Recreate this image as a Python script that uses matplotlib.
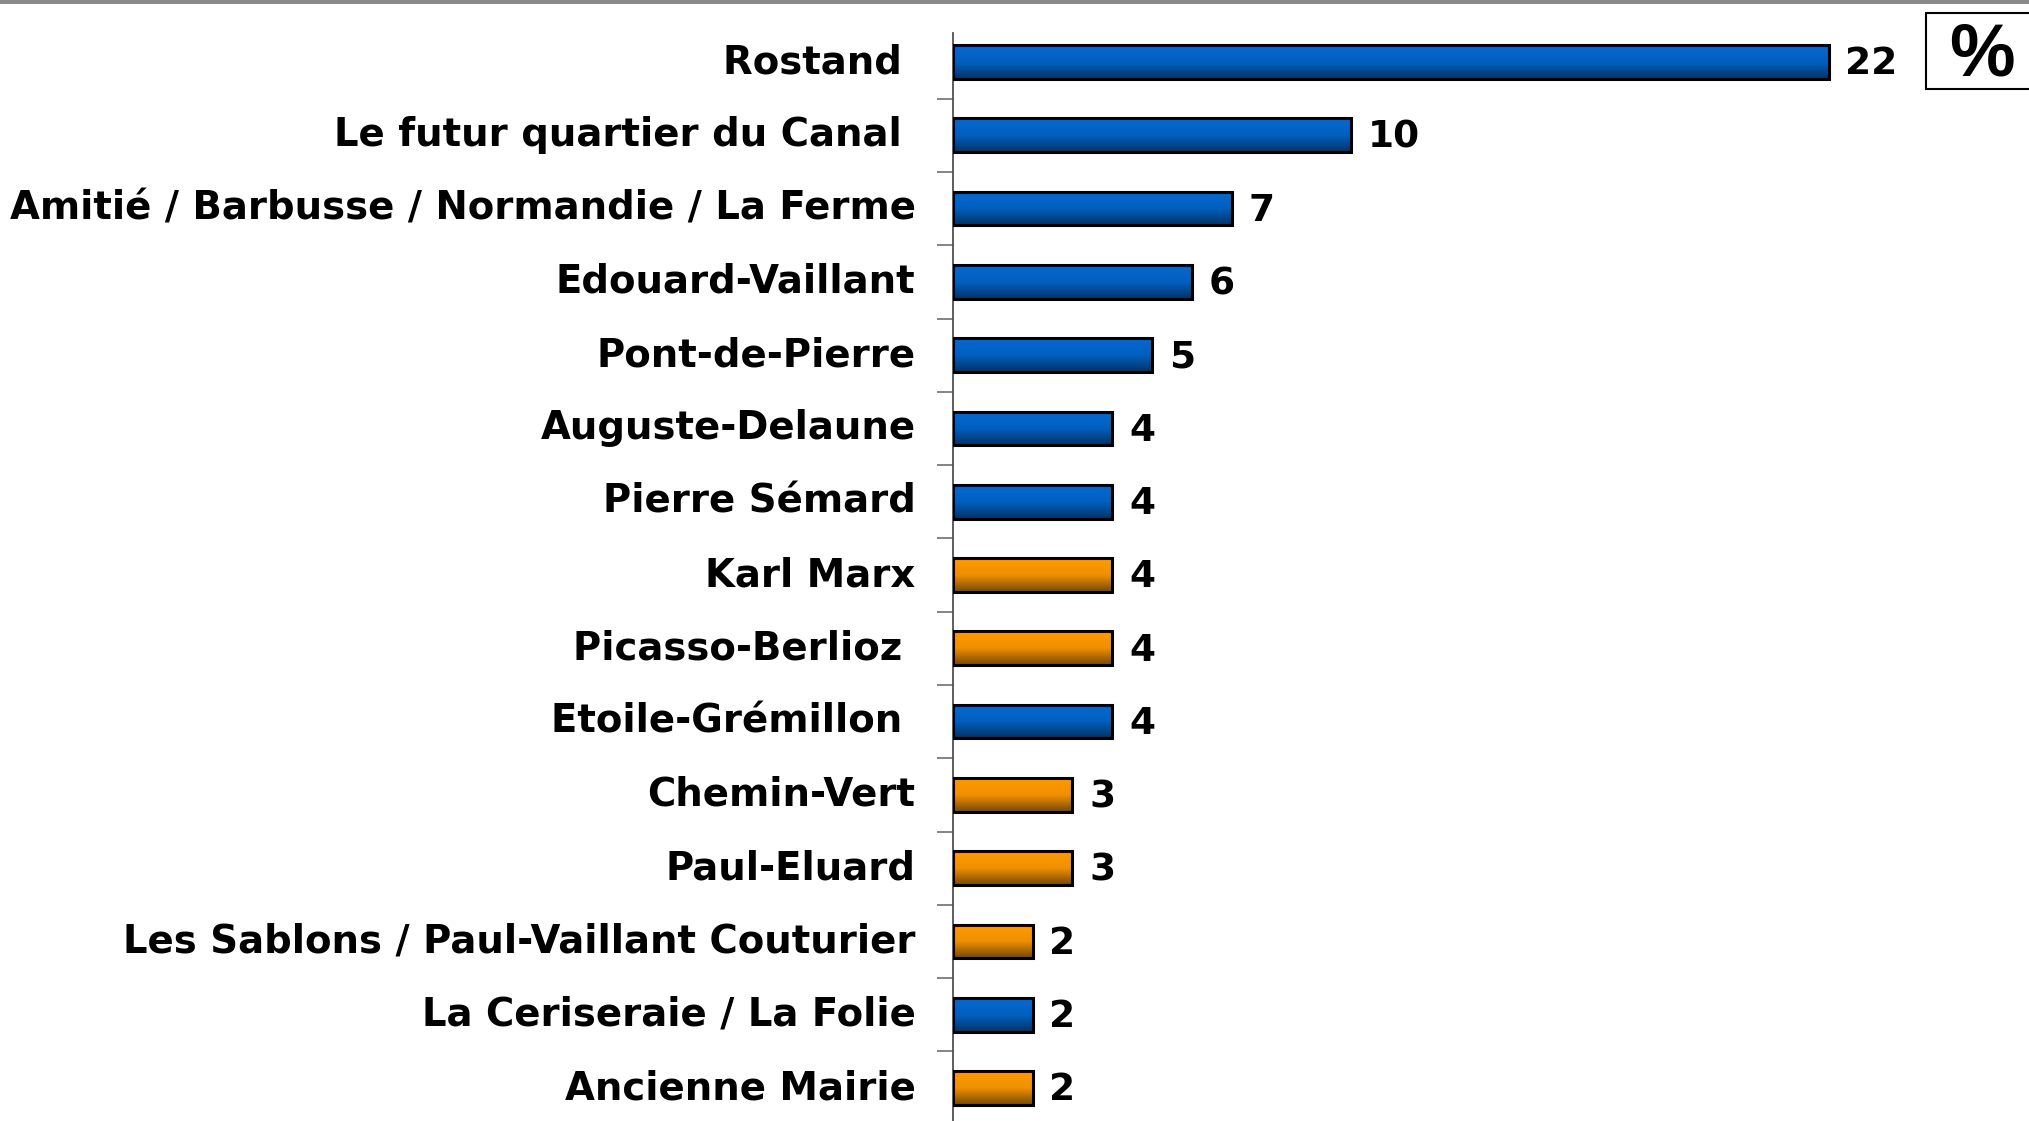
import numpy as np
import matplotlib.pyplot as plt
from matplotlib.colors import LinearSegmentedColormap
from matplotlib.patches import Rectangle

labels = ["Rostand ", "Le futur quartier du Canal ", "Amitié / Barbusse / Normandie / La Ferme",
          "Edouard-Vaillant", "Pont-de-Pierre", "Auguste-Delaune", "Pierre Sémard",
          "Karl Marx", "Picasso-Berlioz ", "Etoile-Grémillon ", "Chemin-Vert",
          "Paul-Eluard", "Les Sablons / Paul-Vaillant Couturier", "La Ceriseraie / La Folie",
          "Ancienne Mairie"]
values = [22, 10, 7, 6, 5, 4, 4, 4, 4, 4, 3, 3, 2, 2, 2]
groups = ["blue", "blue", "blue", "blue", "blue", "blue", "blue", "orange", "orange",
          "blue", "orange", "orange", "orange", "blue", "orange"]

grad = {
    "blue": LinearSegmentedColormap.from_list("b", ["#0868D0", "#0060C0", "#00346A"]),
    "orange": LinearSegmentedColormap.from_list("o", ["#FF9A00", "#F09000", "#7A4800"]),
}

W, H = 2029, 1121
fig = plt.figure(figsize=(W / 100, H / 100), dpi=100)
font = "DejaVu Sans"

# axes placed in pixel terms
ax_left, ax_top = 953, 33
px_per_unit = 39.8
xmax = 25
ax = fig.add_axes([ax_left / W, 0, xmax * px_per_unit / W, (H - ax_top) / H])

y = np.arange(len(values))
h = 0.46
bars = ax.barh(y, values, height=h, facecolor="none", edgecolor="black", linewidth=2.2, zorder=3)

col = np.linspace(0, 1, 64).reshape(-1, 1)
for bar, g in zip(bars, groups):
    x0, y0 = bar.get_x(), bar.get_y()
    w, hh = bar.get_width(), bar.get_height()
    ax.imshow(col, cmap=grad[g], aspect="auto", origin="upper",
              extent=(x0, x0 + w, y0 + hh, y0), zorder=2)

for yi, v in zip(y, values):
    ax.text(v + 0.42, yi + 0.03, str(v), va="center", ha="left", fontsize=27,
            fontweight="bold", family=font)

ax.set_xlim(0, xmax)
spacing = 73.29
ax.set_ylim((H - 62) / spacing, (ax_top - 62) / spacing)

ax.set_yticks(y)
ax.set_yticklabels(labels, fontsize=27.8, fontweight="bold", family=font, va="center")
ax.tick_params(axis="y", which="major", length=0, pad=27)
ax.set_yticks(y[:-1] + 0.5, minor=True)
ax.tick_params(axis="y", which="minor", length=11.5, width=1.2, color="#707070")
ax.set_xticks([])
for s in ["top", "right", "bottom"]:
    ax.spines[s].set_visible(False)
ax.spines["left"].set_color("#505050")
ax.spines["left"].set_linewidth(1.3)

# grey rule along the top edge
fig.add_artist(Rectangle((0, 1 - 4 / H), 1, 4 / H, transform=fig.transFigure,
                         facecolor="#8A8A8A", edgecolor="none"))
# percent box
fig.add_artist(Rectangle((1926 / W, 1 - 89 / H), 140 / W, 76 / H, transform=fig.transFigure,
                         facecolor="white", edgecolor="black", linewidth=1.5))
fig.text(1982 / W, 1 - 75 / H, "%", ha="center", va="baseline", fontsize=53,
         fontweight="bold", family="Liberation Sans")

fig.savefig("out.png", dpi=100)
